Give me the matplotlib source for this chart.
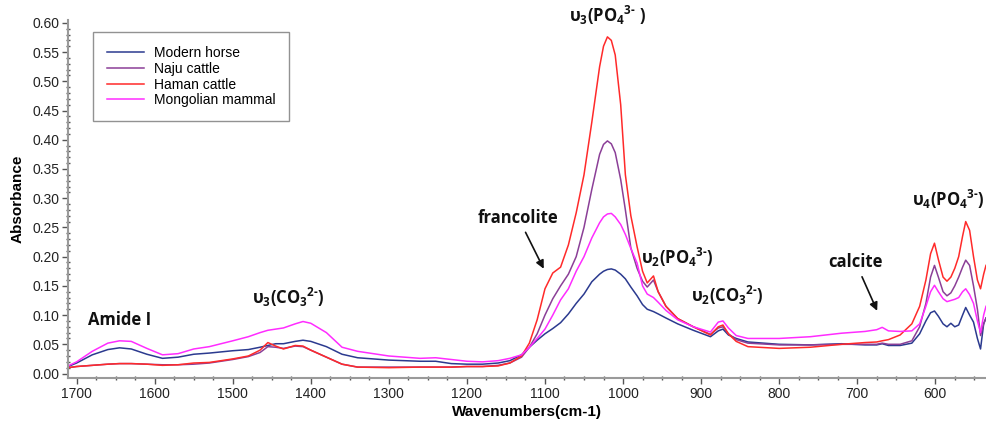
import matplotlib
matplotlib.use("Agg")
import matplotlib.pyplot as plt
from matplotlib.ticker import MultipleLocator

plt.rcParams['font.family'] = ['Liberation Sans', 'DejaVu Sans']
plt.rcParams['mathtext.fontset'] = 'custom'
plt.rcParams['mathtext.rm'] = 'Open Sans:bold'
plt.rcParams['mathtext.default'] = 'rm'

# ===============================
# DATA
# ===============================
wavenumber = [1711, 1700, 1680, 1660, 1645, 1630, 1610, 1590, 1570, 1550, 1530, 1500,
              1480, 1465, 1455, 1445, 1435, 1420, 1410, 1400, 1380, 1360, 1340, 1300,
              1260, 1240, 1220, 1200, 1180, 1160, 1145, 1130, 1120, 1110, 1100, 1090,
              1080, 1070, 1060, 1050, 1040, 1030, 1025, 1020, 1015, 1010, 1003, 997,
              990, 982, 975, 969, 961, 955, 945, 930, 910, 888, 878, 872,
              865, 855, 840, 800, 760, 720, 690, 675, 668, 660, 645, 630,
              620, 612, 606, 601, 596, 590, 585, 580, 575, 570, 565, 561,
              556, 551, 546, 542, 538, 535]

modern_horse = [0.012, 0.018, 0.032, 0.041, 0.044, 0.042, 0.033, 0.026, 0.028, 0.033, 0.035, 0.039,
                0.041, 0.045, 0.048, 0.051, 0.051, 0.055, 0.057, 0.055, 0.046, 0.033, 0.027, 0.023,
                0.021, 0.021, 0.017, 0.016, 0.016, 0.018, 0.022, 0.032, 0.045, 0.057, 0.068, 0.077,
                0.087, 0.102, 0.120, 0.136, 0.157, 0.170, 0.175, 0.178, 0.179, 0.177, 0.170, 0.162,
                0.148, 0.133, 0.118, 0.110, 0.106, 0.102, 0.095, 0.085, 0.074, 0.063, 0.073, 0.076,
                0.066, 0.060, 0.054, 0.050, 0.049, 0.051, 0.049, 0.049, 0.051, 0.048, 0.048, 0.052,
                0.068, 0.090, 0.104, 0.107, 0.098, 0.085, 0.080, 0.086, 0.080, 0.083, 0.100, 0.113,
                0.100, 0.088, 0.060, 0.042, 0.085, 0.095]

naju_cattle = [0.010, 0.012, 0.014, 0.016, 0.017, 0.017, 0.016, 0.015, 0.015, 0.016, 0.018, 0.024,
               0.029, 0.036, 0.046, 0.045, 0.043, 0.047, 0.046, 0.040, 0.028, 0.016, 0.011, 0.011,
               0.011, 0.011, 0.011, 0.012, 0.012, 0.014, 0.018, 0.028, 0.045, 0.068, 0.100, 0.128,
               0.150, 0.170, 0.200, 0.250, 0.315, 0.375, 0.392, 0.398, 0.393, 0.378, 0.332, 0.280,
               0.215, 0.180, 0.158, 0.148, 0.160, 0.140, 0.115, 0.094, 0.080, 0.067, 0.078, 0.080,
               0.068, 0.058, 0.052, 0.049, 0.049, 0.050, 0.050, 0.050, 0.052, 0.050, 0.050, 0.056,
               0.080, 0.120, 0.165, 0.185, 0.165, 0.140, 0.133, 0.138, 0.150, 0.165, 0.182, 0.194,
               0.185, 0.150, 0.110, 0.065, 0.085, 0.095]

haman_cattle = [0.010, 0.012, 0.014, 0.016, 0.017, 0.017, 0.016, 0.014, 0.015, 0.018, 0.019, 0.025,
                0.030, 0.040, 0.053, 0.047, 0.042, 0.048, 0.047, 0.040, 0.028, 0.016, 0.011, 0.010,
                0.011, 0.011, 0.011, 0.012, 0.012, 0.013, 0.018, 0.030, 0.052, 0.092, 0.145, 0.172,
                0.182, 0.220, 0.275, 0.340, 0.430, 0.525, 0.560, 0.576, 0.570, 0.545, 0.460, 0.340,
                0.270, 0.217, 0.175, 0.155, 0.167, 0.140, 0.115, 0.094, 0.080, 0.066, 0.080, 0.083,
                0.068, 0.055, 0.046, 0.043, 0.045, 0.050, 0.053, 0.054, 0.056, 0.058, 0.066, 0.085,
                0.115, 0.160, 0.205, 0.223, 0.195, 0.165, 0.158, 0.165, 0.180, 0.200, 0.235, 0.260,
                0.245, 0.200, 0.160, 0.145, 0.170, 0.185]

mongolian_mammal = [0.013, 0.020, 0.038, 0.052, 0.056, 0.055, 0.043, 0.032, 0.034, 0.042, 0.046, 0.056,
                    0.063, 0.070, 0.074, 0.076, 0.078, 0.085, 0.089, 0.086, 0.070, 0.045, 0.038, 0.030,
                    0.026, 0.027, 0.024, 0.021, 0.020, 0.022, 0.026, 0.032, 0.045, 0.060, 0.076, 0.100,
                    0.126, 0.145, 0.175, 0.200, 0.232, 0.258, 0.268, 0.273, 0.274, 0.268, 0.255, 0.238,
                    0.214, 0.189, 0.150, 0.136, 0.130, 0.122, 0.108, 0.092, 0.080, 0.071, 0.088, 0.090,
                    0.078, 0.065, 0.060, 0.060, 0.063, 0.069, 0.072, 0.075, 0.079, 0.073, 0.072, 0.073,
                    0.085, 0.115, 0.140, 0.151, 0.140, 0.128, 0.123, 0.125, 0.127, 0.130, 0.140, 0.145,
                    0.135, 0.120, 0.090, 0.070, 0.100, 0.115]

series_names = ["Modern horse", "Naju cattle", "Haman cattle", "Mongolian mammal"]
series_colors = ["#2b3a8f", "#8b3f97", "#ff2a2a", "#ff2cff"]

# ===============================
# PLOT
# ===============================
fig = plt.figure(figsize=(9.86, 4.24), dpi=100)
ax = fig.add_axes([0.069, 0.108, 0.931, 0.845])

for name, vals, col in zip(series_names,
                           [modern_horse, naju_cattle, haman_cattle, mongolian_mammal],
                           series_colors):
    ax.plot(wavenumber, vals, color=col, lw=1.1, label=name)

ax.set_xlim(1711, 535)
ax.set_ylim(-0.008, 0.605)
ax.xaxis.set_major_locator(MultipleLocator(100))
ax.xaxis.set_minor_locator(MultipleLocator(25))
ax.yaxis.set_major_locator(MultipleLocator(0.05))
ax.yaxis.set_minor_locator(MultipleLocator(0.01))
ax.yaxis.set_major_formatter(plt.FormatStrFormatter('%.2f'))

for side in ["top", "right"]:
    ax.spines[side].set_visible(False)
for side in ["left", "bottom"]:
    ax.spines[side].set_color("#9a9a9a")
    ax.spines[side].set_linewidth(1.5)

ax.tick_params(which="major", direction="out", length=4, width=1, color="#555555",
               labelsize=10, labelcolor="#222222", pad=2)
ax.tick_params(which="minor", direction="inout", length=3, width=1, color="#555555")

ax.set_xlabel("Wavenumbers(cm-1)", fontsize=11, fontweight="bold", labelpad=3)
ax.set_ylabel("Absorbance", fontsize=11, fontweight="bold", labelpad=6)

leg = ax.legend(loc="upper left", bbox_to_anchor=(0.027, 0.965), borderaxespad=0,
                fontsize=10, frameon=True, fancybox=False, edgecolor="#777777",
                handlelength=2.7, handletextpad=0.7, labelspacing=0.12, borderpad=1.0)
leg.get_frame().set_linewidth(1.0)

# ===============================
# BAND LABELS
# ===============================
lab = dict(fontsize=12, fontweight="bold", family=["Open Sans", "DejaVu Sans"],
           ha="center", va="center", color="#111111")

ax.text(1645, 0.092, "Amide I", **lab)
ax.text(1429, 0.130, r"υ$_3$(CO$_3$$^{2\text{-}}$)", **lab)
ax.text(1020, 0.612, r"υ$_3$(PO$_4$$^{3\text{-}}$ )", clip_on=False, **lab)
ax.text(930, 0.199, r"υ$_2$(PO$_4$$^{3\text{-}}$)", **lab)
ax.text(866, 0.133, r"υ$_2$(CO$_3$$^{2\text{-}}$)", **lab)
ax.text(583, 0.297, r"υ$_4$(PO$_4$$^{3\text{-}}$)", **lab)

ax.annotate("francolite", xy=(1100, 0.175), xytext=(1134, 0.266),
            arrowprops=dict(arrowstyle="-|>", color="#111111", lw=1.2), **lab)
ax.annotate("calcite", xy=(673, 0.103), xytext=(702, 0.190),
            arrowprops=dict(arrowstyle="-|>", color="#111111", lw=1.2), **lab)

fig.savefig("out.png", dpi=100)
